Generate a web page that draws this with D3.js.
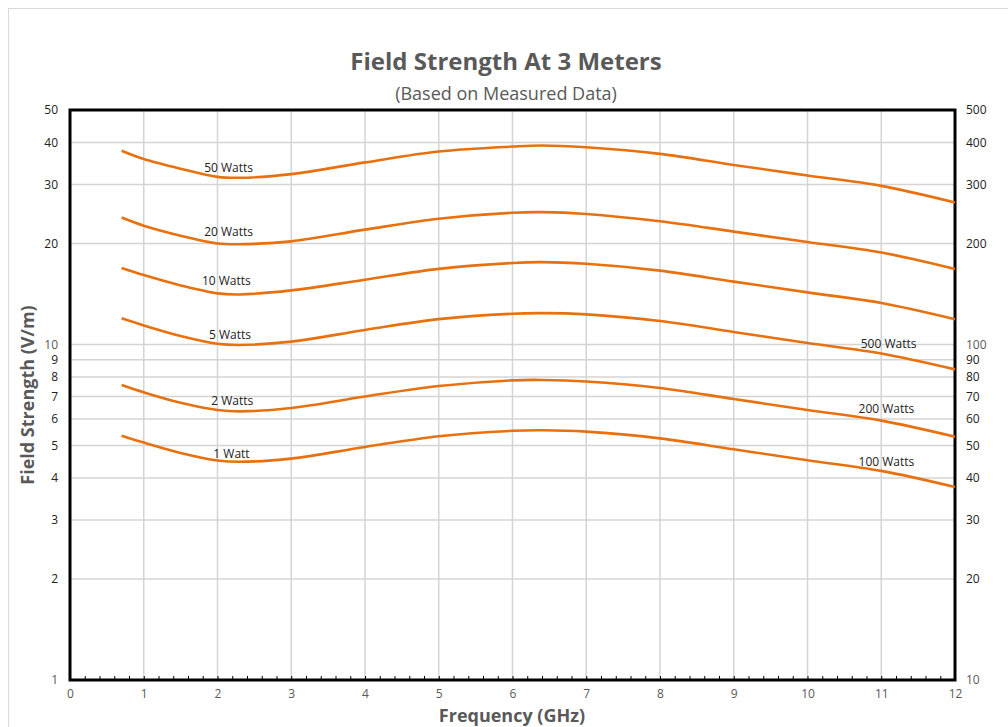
<!DOCTYPE html>
<html><head><meta charset="utf-8">
<script src="https://cdn.jsdelivr.net/npm/d3@7"></script>
<style>body{margin:0;background:#fff;} text{font-family:"Open Sans","Noto Sans",sans-serif;}</style>
</head><body>
<svg id="c" width="1008" height="727"></svg>
<script>
const freq = [0.7, 1, 1.5, 2, 2.3, 3, 4, 5, 6, 6.4, 7, 8, 9, 10, 11, 12];
const w50  = [37.8, 35.7, 33.4, 31.6, 31.4, 32.2, 34.9, 37.6, 38.9, 39.2, 38.7, 37.0, 34.3, 31.9, 29.7, 26.5];
const w20  = [23.9, 22.6, 21.1, 20.0, 19.9, 20.3, 22.0, 23.7, 24.7, 24.8, 24.5, 23.3, 21.7, 20.2, 18.8, 16.8];
const w10  = [16.9, 16.1, 15.0, 14.2, 14.1, 14.5, 15.6, 16.8, 17.5, 17.6, 17.4, 16.6, 15.4, 14.3, 13.3, 11.9];
const w5   = [11.97, 11.4, 10.6, 10.05, 9.97, 10.2, 11.05, 11.9, 12.35, 12.4, 12.3, 11.75, 10.9, 10.1, 9.4, 8.43];
const w2   = [7.57, 7.2, 6.7, 6.38, 6.32, 6.47, 7.0, 7.52, 7.82, 7.84, 7.76, 7.42, 6.88, 6.38, 5.93, 5.31];
const w1   = [5.35, 5.1, 4.75, 4.51, 4.47, 4.57, 4.95, 5.33, 5.53, 5.55, 5.5, 5.25, 4.87, 4.52, 4.2, 3.76];
const seriesList = [w50, w20, w10, w5, w2, w1];

const labelText = ["50 Watts", "20 Watts", "10 Watts", "5 Watts", "2 Watts", "1 Watt", "500 Watts", "200 Watts", "100 Watts"];
const labelFreq = [2.15, 2.15, 2.12, 2.17, 2.2, 2.19, 11.1, 11.07, 11.07];
const labelVal  = [33.4, 21.5, 15.4, 10.6, 6.75, 4.68, 10.0, 6.4, 4.45];

const leftTicks  = [1, 2, 3, 4, 5, 6, 7, 8, 9, 10, 20, 30, 40, 50];
const rightTicks = [10, 20, 30, 40, 50, 60, 70, 80, 90, 100, 200, 300, 400, 500];
const xTicks = [0,1,2,3,4,5,6,7,8,9,10,11,12];
const gridVals = [2,3,4,5,6,7,8,9,10,20,30,40];

const svg = d3.select("#c");
const L = 70, R = 955, T = 110, B = 680;
const x = d3.scaleLinear().domain([0, 12]).range([L, R]);
const y = d3.scaleLog().domain([1, 50]).range([B, T]);
const y2 = d3.scaleLog().domain([10, 500]).range([B, T]);

// outer border
svg.append("rect").attr("x", 8.5).attr("y", 8.5).attr("width", 1010).attr("height", 740)
  .attr("fill", "none").attr("stroke", "#d9d9d9").attr("stroke-width", 1);

// gridlines
svg.append("g").selectAll("line").data(gridVals).join("line")
  .attr("x1", L).attr("x2", R).attr("y1", d => y(d)).attr("y2", d => y(d))
  .attr("stroke", "#d4d4d4").attr("stroke-width", 1.5);
svg.append("g").selectAll("line").data(xTicks.slice(1, -1)).join("line")
  .attr("x1", d => x(d)).attr("x2", d => x(d)).attr("y1", T).attr("y2", B)
  .attr("stroke", "#d4d4d4").attr("stroke-width", 1.5);

// x axis (bottom) with minor ticks
const xAxis = d3.axisBottom(x).tickValues(d3.range(0, 12.01, 0.2)).tickSize(-4).tickFormat("");
const gx = svg.append("g").attr("transform", `translate(0,${B})`).call(xAxis);
gx.select(".domain").remove();
gx.selectAll(".tick line").attr("stroke", "#000").attr("stroke-width", 1);
const gxl = svg.append("g").attr("transform", `translate(0,${B})`)
  .call(d3.axisBottom(x).tickValues(xTicks).tickSize(0).tickPadding(9).tickFormat(d3.format("d")));
gxl.select(".domain").remove();
gxl.selectAll("text").attr("fill", "#595959").attr("font-size", 12).attr("font-family", "Open Sans");

// left axis labels
const gl = svg.append("g").attr("transform", `translate(${L},0)`)
  .call(d3.axisLeft(y).tickValues(leftTicks).tickSize(0).tickPadding(12).tickFormat(d3.format("d")));
gl.select(".domain").remove();
gl.selectAll("text").attr("font-size", 12).attr("font-family", "Open Sans")
  .attr("fill", d => (d === 1 || d === 10) ? "#595959" : "#222");

// right axis labels
const gr = svg.append("g").attr("transform", `translate(${R},0)`)
  .call(d3.axisRight(y2).tickValues(rightTicks).tickSize(0).tickPadding(11).tickFormat(d3.format("d")));
gr.select(".domain").remove();
gr.selectAll("text").attr("font-size", 12).attr("font-family", "Open Sans")
  .attr("fill", d => (d === 10 || d === 100) ? "#595959" : "#222");

// frame
svg.append("rect").attr("x", L).attr("y", T).attr("width", R - L).attr("height", B - T)
  .attr("fill", "none").attr("stroke", "#000").attr("stroke-width", 3);

// curves
const line = d3.line().x((d, i) => x(freq[i])).y(d => y(d)).curve(d3.curveCatmullRom.alpha(0.5));
svg.append("g").selectAll("path").data(seriesList).join("path")
  .attr("d", d => line(d)).attr("fill", "none").attr("stroke", "#E8700E").attr("stroke-width", 2.6);

// curve labels
svg.append("g").selectAll("text").data(labelText).join("text")
  .attr("x", (d, i) => x(labelFreq[i])).attr("y", (d, i) => y(labelVal[i]))
  .attr("text-anchor", "middle").attr("dominant-baseline", "middle")
  .attr("font-size", 12).attr("fill", "#222").text(d => d);

// titles
svg.append("text").attr("x", 506).attr("y", 70).attr("text-anchor", "middle")
  .attr("font-size", 24).attr("font-weight", "bold").attr("fill", "#595959").text("Field Strength At 3 Meters");
svg.append("text").attr("x", 506).attr("y", 100).attr("text-anchor", "middle")
  .attr("font-size", 18).attr("fill", "#595959").text("(Based on Measured Data)");
svg.append("text").attr("x", 512).attr("y", 722).attr("text-anchor", "middle")
  .attr("font-size", 18).attr("font-weight", "bold").attr("fill", "#595959").text("Frequency (GHz)");
svg.append("text").attr("transform", "translate(34,395) rotate(-90)").attr("text-anchor", "middle")
  .attr("font-size", 18).attr("font-weight", "bold").attr("fill", "#595959").text("Field Strength (V/m)");
</script>
</body></html>
